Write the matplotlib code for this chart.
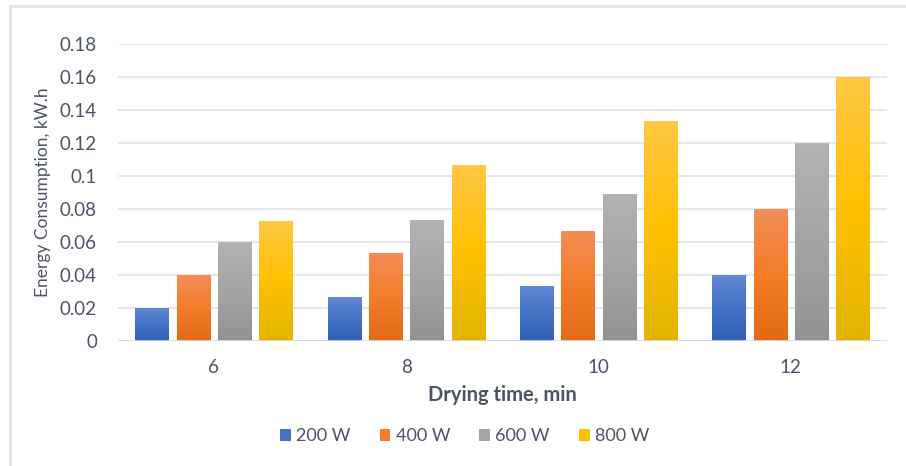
import matplotlib.pyplot as plt
import numpy as np
from matplotlib.colors import LinearSegmentedColormap
from matplotlib.patches import Patch
from matplotlib.lines import Line2D

plt.rcParams['font.family'] = ['Lato', 'DejaVu Sans']

# data
times = ['6', '8', '10', '12']
series = ['200 W', '400 W', '600 W', '800 W']
w200 = [0.020, 0.0267, 0.0333, 0.040]
w400 = [0.040, 0.0533, 0.0667, 0.080]
w600 = [0.060, 0.0733, 0.089, 0.120]
w800 = [0.073, 0.1067, 0.1333, 0.160]

# gradient stops (top, middle, bottom) per series
grads = [
    ['#6389d4', '#4472c4', '#2f5fb8'],
    ['#f28e58', '#f47d2a', '#e26a17'],
    ['#b3b3b3', '#a5a5a5', '#929292'],
    ['#ffc845', '#ffc000', '#e2b400'],
]
text_col = '#4b5467'

fig = plt.figure(figsize=(9.06, 4.66), dpi=100)
ax = fig.add_axes([0.130, 0.268, 0.849, 0.638])

x = np.arange(len(times))
step = 0.215
width = 0.172
grad = np.linspace(0, 1, 256).reshape(-1, 1)

for i, vals in enumerate([w200, w400, w600, w800]):
    cmap = LinearSegmentedColormap.from_list(series[i], grads[i][::-1])
    pos = x + (i - 1.5) * step
    bars = ax.bar(pos, vals, width, color=grads[i][1], edgecolor='none', zorder=2)
    for b in bars:
        im = ax.imshow(grad, cmap=cmap, aspect='auto', origin='lower',
                       extent=(b.get_x(), b.get_x() + b.get_width(), 0, b.get_height()),
                       zorder=3)
        im.set_clip_path(b)

ax.set_xlim(-0.5, 3.5)
ax.set_ylim(0, 0.18)
ax.set_yticks(np.arange(0, 0.19, 0.02))
ax.set_yticklabels(['0', '0.02', '0.04', '0.06', '0.08', '0.1', '0.12', '0.14', '0.16', '0.18'])
ax.set_xticks(x)
ax.set_xticklabels(times)
ax.tick_params(length=0, labelsize=13.5, colors=text_col, pad=13)
ax.tick_params(axis='y', pad=15)
ax.yaxis.grid(True, color='#dfe3ea', lw=1.2, zorder=0)
ax.set_axisbelow(True)
for s in ax.spines.values():
    s.set_visible(False)
ax.axhline(0, color='#d6dae2', lw=1.2, zorder=4)

ax.set_xlabel('Drying time, min', fontsize=14.5, fontweight='bold', color=text_col, labelpad=6)
ax.set_ylabel('Energy Consumption, kW.h', fontsize=12.5, color=text_col, labelpad=6,
              family=['Liberation Sans Narrow', 'Lato'])

handles = [Patch(facecolor=g[1], edgecolor='none') for g in grads]
fig.legend(handles, series, loc='center', bbox_to_anchor=(0.513, 0.064), ncol=4,
           frameon=False, fontsize=13, labelcolor=text_col, handlelength=0.6,
           handleheight=0.6, handletextpad=0.3, columnspacing=1.6)

# outer chart border (left and top visible)
fig.add_artist(Line2D([0.011, 0.011], [0.0, 0.987], color='#dde3ec', lw=2))
fig.add_artist(Line2D([0.011, 1.0], [0.987, 0.987], color='#dde3ec', lw=2))

fig.savefig('out.png', dpi=100)
